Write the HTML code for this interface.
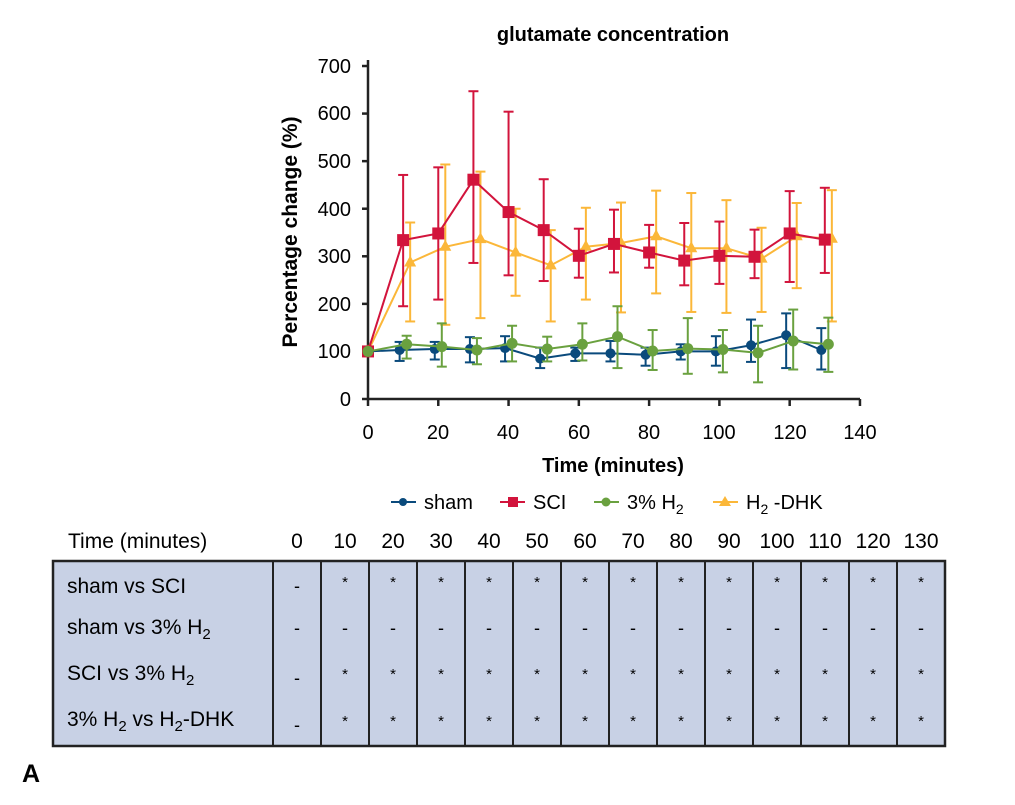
<!DOCTYPE html>
<html><head><meta charset="utf-8"><style>
body{margin:0;background:#fff;width:1015px;height:800px;overflow:hidden;font-family:"Liberation Sans",Arial,sans-serif}
</style></head><body>
<svg id="s" width="1015" height="800" xmlns="http://www.w3.org/2000/svg" font-family="Liberation Sans, Arial, sans-serif">
<text x="613" y="41" font-size="20" font-weight="bold" text-anchor="middle">glutamate concentration</text>
<text transform="translate(297,232) rotate(-90)" font-size="21" font-weight="bold" text-anchor="middle">Percentage change (%)</text>
<text x="613" y="472" font-size="20" font-weight="bold" text-anchor="middle">Time (minutes)</text>
<g font-size="20" text-anchor="end">
<text x="351" y="406">0</text><text x="351" y="358">100</text><text x="351" y="311">200</text><text x="351" y="263">300</text><text x="351" y="216">400</text><text x="351" y="168">500</text><text x="351" y="120">600</text><text x="351" y="73">700</text>
</g>
<g font-size="20" text-anchor="middle">
<text x="368" y="439">0</text><text x="438" y="439">20</text><text x="508" y="439">40</text><text x="579" y="439">60</text><text x="649" y="439">80</text><text x="719" y="439">100</text><text x="790" y="439">120</text><text x="860" y="439">140</text>
</g>
<g id="axes" stroke="#222" stroke-width="2.5" fill="none"></g>
<g id="data"></g>
<g font-size="20">
<line x1="391" y1="502" x2="416" y2="502" stroke="#0a4a7c" stroke-width="2"/><circle cx="403" cy="502" r="4" fill="#0a4a7c"/><text x="424" y="509">sham</text>
<line x1="500" y1="502" x2="525" y2="502" stroke="#d2143c" stroke-width="2"/><rect x="508" y="497" width="10" height="10" fill="#d2143c"/><text x="533" y="509">SCI</text>
<line x1="594" y1="502" x2="619" y2="502" stroke="#6aa13f" stroke-width="2"/><circle cx="606" cy="502" r="4.5" fill="#6aa13f"/><text x="627" y="509">3% H<tspan font-size="14" dy="5">2</tspan></text>
<line x1="713" y1="502" x2="738" y2="502" stroke="#fbb739" stroke-width="2"/><polygon points="725,496 731,506 719,506" fill="#fbb739"/><text x="746" y="509">H<tspan font-size="14" dy="5">2</tspan><tspan dy="-5"> -DHK</tspan></text>
</g>
<text x="68" y="548" font-size="21">Time (minutes)</text>
<g id="tbl"></g>
<text x="22" y="782" font-size="25" font-weight="bold">A</text>
<g font-size="21" id="lbl"></g>
</svg>
<script>
var NS="http://www.w3.org/2000/svg",s=document.getElementById('s');
function el(p,t,a,txt){var e=document.createElementNS(NS,t);for(var k in a)e.setAttribute(k,a[k]);if(txt!=null)e.textContent=txt;p.appendChild(e);return e;}
var ax=document.getElementById('axes');
function X(v){return 368+v*3.514}function Y(v){return 399-v*0.4757}
el(ax,'line',{x1:368,y1:60,x2:368,y2:400});el(ax,'line',{x1:367,y1:399,x2:860,y2:399});
for(var i=0;i<=7;i++){el(ax,'line',{x1:362,y1:Y(i*100),x2:368,y2:Y(i*100)});}
for(var i=0;i<=7;i++){el(ax,'line',{x1:X(i*20),y1:399,x2:X(i*20),y2:406});}
var d=document.getElementById('data');
var series=[
 {c:"#fbb739",off:2,m:"t",v:[100,287,320,336,308,281,320,328,342,317,317,295,342,337],
  hi:[100,371,493,478,400,355,402,413,438,433,418,360,412,439],lo:[100,163,156,170,217,163,209,182,222,183,181,183,233,163]},
 {c:"#d2143c",off:0,m:"s",v:[100,334,348,461,393,355,301,326,308,291,301,299,348,335],
  hi:[100,471,487,647,604,462,358,398,366,370,373,356,437,444],lo:[100,195,209,286,260,248,255,266,276,239,242,254,246,265]},
 {c:"#0a4a7c",off:-1,m:"c",v:[100,103,105,105,107,85,96,96,93,100,100,113,134,103],
  hi:[100,120,120,130,132,108,108,122,108,115,132,167,180,149],lo:[100,80,83,77,79,65,80,79,70,83,70,78,65,62]},
 {c:"#6aa13f",off:1,m:"g",v:[100,115,110,103,117,105,115,131,101,106,104,97,122,115],
  hi:[100,133,159,128,154,131,159,195,145,170,145,154,188,171],lo:[100,85,68,73,79,79,81,65,61,53,56,35,62,57]}
];
series.forEach(function(S){
 var g=el(d,'g',{});var pts=[];
 for(var i=0;i<14;i++){var x=X(i*10+(i?S.off:0));pts.push(x+","+Y(S.v[i]));
  if(i){el(g,'line',{x1:x,y1:Y(S.hi[i]),x2:x,y2:Y(S.lo[i]),stroke:S.c,"stroke-width":2});
   el(g,'line',{x1:x-5,y1:Y(S.hi[i]),x2:x+5,y2:Y(S.hi[i]),stroke:S.c,"stroke-width":2});
   el(g,'line',{x1:x-5,y1:Y(S.lo[i]),x2:x+5,y2:Y(S.lo[i]),stroke:S.c,"stroke-width":2});}}
 el(g,'polyline',{points:pts.join(" "),fill:"none",stroke:S.c,"stroke-width":2});
 pts.forEach(function(p){var a=p.split(",");var x=+a[0],y=+a[1];
  if(S.m=="s")el(g,'rect',{x:x-6,y:y-6,width:12,height:12,fill:S.c});
  else if(S.m=="t")el(g,'polygon',{points:(x)+","+(y-7)+" "+(x+6)+","+(y+4)+" "+(x-6)+","+(y+4),fill:S.c});
  else el(g,'circle',{cx:x,cy:y,r:S.m=="g"?5.5:5,fill:S.c});});
});
var t=document.getElementById('tbl');
el(t,'rect',{x:53,y:561,width:892,height:185,fill:"#c8d1e5",stroke:"#222","stroke-width":2.5});
var cw=(945-273)/14;
for(var i=0;i<14;i++){var x0=273+i*cw;
 el(t,'line',{x1:x0,y1:561,x2:x0,y2:746,stroke:"#222","stroke-width":2});
 el(t,'text',{x:x0+cw/2,y:548,"font-size":21,"text-anchor":"middle"},String(i*10));
 var rows=[i?"*":"-","-",i?"*":"-",i?"*":"-"],ys=[i?587:592,634,i?679:684,i?726:731];
 for(var r=0;r<4;r++)el(t,'text',{x:x0+cw/2,y:ys[r],"font-size":rows[r]=="*"?15:18,"text-anchor":"middle"},rows[r]);
}
</script>
<div style="position:absolute;left:0;top:0;width:1015px;height:800px;pointer-events:none">
<svg width="1015" height="800" font-family="Liberation Sans, Arial, sans-serif" font-size="21">
<text x="67" y="593">sham vs SCI</text>
<text x="67" y="634">sham vs 3% H<tspan font-size="15" dy="5">2</tspan></text>
<text x="67" y="680">SCI vs 3% H<tspan font-size="15" dy="5">2</tspan></text>
<text x="67" y="726">3% H<tspan font-size="15" dy="5">2</tspan><tspan dy="-5"> vs H</tspan><tspan font-size="15" dy="5">2</tspan><tspan dy="-5">-DHK</tspan></text>
</svg></div>
</body></html>
